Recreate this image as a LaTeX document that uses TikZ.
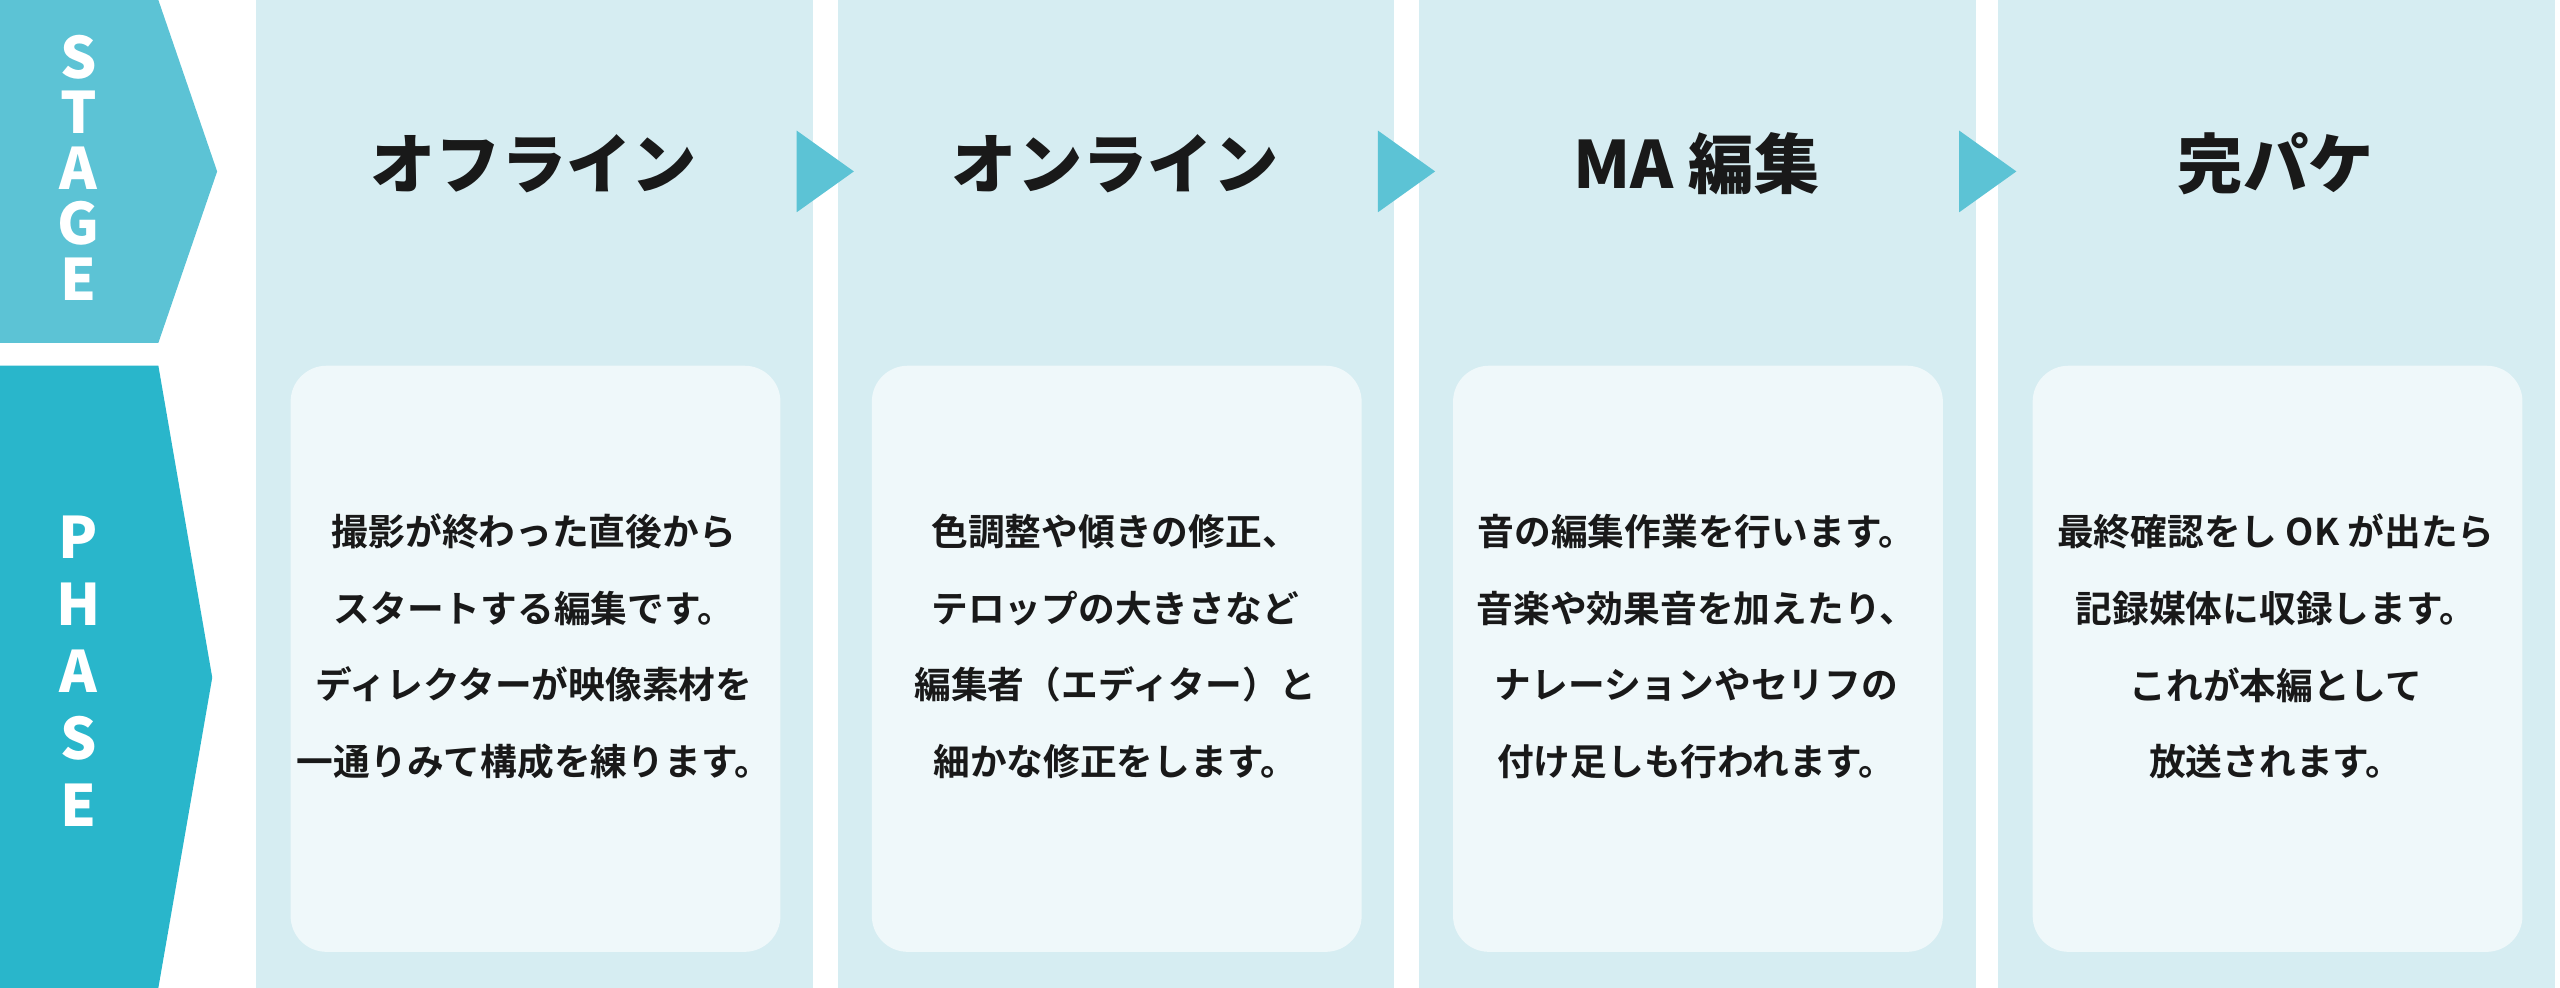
\documentclass[tikz,border=0pt]{standalone}
\usepackage{fontspec}
\newfontfamily\jp{Noto Sans CJK JP Bold}
\newfontfamily\jpb{Noto Sans CJK JP Black}
\definecolor{stagec}{HTML}{5CC3D5}
\definecolor{phasec}{HTML}{29B6CB}
\definecolor{colc}{HTML}{D6EDF2}
\definecolor{innerc}{HTML}{EFF8FA}
\definecolor{tric}{HTML}{5CC3D5}
\begin{document}
\begin{tikzpicture}[x=1pt,y=-1pt,
  col/.style={fill=colc,draw=none},
  inner/.style={fill=innerc,draw=none,rounded corners=22pt},
  title/.style={font=\jpb\fontsize{40}{44}\selectfont,text=black!90},
  body/.style={font=\jp\fontsize{22.5}{47}\selectfont,align=center,text=black!90},
  vlet/.style={font=\jpb\fontsize{35}{36}\selectfont,text=white}]
\useasboundingbox (0,0) rectangle (1568,605);
\fill[stagec] (0,0) -- (97,0) -- (133,105) -- (97,210) -- (0,210) -- cycle;
\fill[phasec] (0,224) -- (97,224) -- (130,415) -- (97,605) -- (0,605) -- cycle;
\foreach \l [count=\i] in {S,T,A,G,E} \node[vlet] (s\i) at (48,{1+\i*34}) {\l};
\foreach \l [count=\i] in {P,H,A,S,E} \node[vlet] (p\i) at (48,{288+\i*41}) {\l};
\foreach \x/\n in {157/a,513/b,869/c,1224/d}{
  \fill[col] (\x,0) rectangle ++(341,605);
  \fill[inner] (\x+21,224) rectangle ++(300,359);
}
\foreach \x in {488,844,1200}\fill[tric] (\x,80) -- (\x+35,105) -- (\x,130) -- cycle;
\node[title] (t1) at (327,100) {オフライン};
\node[title] (t2) at (683,100) {オンライン};
\node[title] (t3) at (1039,100) {MA 編集};
\node[title] (t4) at (1394,100) {完パケ};
\node[body] (b1) at (327,396) {撮影が終わった直後から\\スタートする編集です。\\ディレクターが映像素材を\\一通りみて構成を練ります。};
\node[body] (b2) at (683,396) {色調整や傾きの修正、\\テロップの大きさなど\\編集者（エディター）と\\細かな修正をします。};
\node[body] (b3) at (1039,396) {音の編集作業を行います。\\音楽や効果音を加えたり、\\ナレーションやセリフの\\付け足しも行われます。};
\node[body] (b4) at (1394,396) {最終確認をし OK が出たら\\記録媒体に収録します。\\これが本編として\\放送されます。};
\end{tikzpicture}
\end{document}
